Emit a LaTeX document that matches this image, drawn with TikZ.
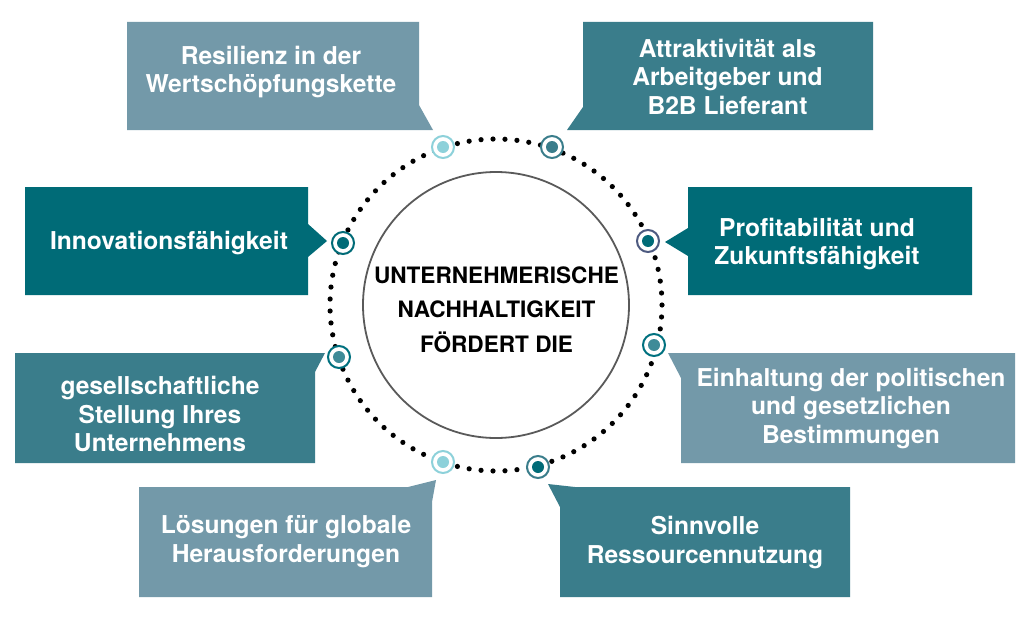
\documentclass[tikz,border=0pt]{standalone}
\usepackage{fontspec}
\setmainfont{TeX Gyre Heros}
\definecolor{slate}{HTML}{7399A9}
\definecolor{tealm}{HTML}{3A7D8B}
\definecolor{teald}{HTML}{006B77}
\definecolor{lightc}{HTML}{8DD1DA}
\definecolor{ringp}{HTML}{4D5A80}
\definecolor{ringt}{HTML}{00717F}
\definecolor{fillm}{HTML}{3E8B98}
\definecolor{coregray}{HTML}{5A5A5A}
\begin{document}
\begin{tikzpicture}[x=1pt,y=-1pt,
  boxtext/.style={text=white, font=\fontsize{24.6}{28.5}\selectfont\bfseries, align=center, inner sep=0pt},
  coretextstyle/.style={text=black, font=\fontsize{22.6}{34.5}\selectfont\bfseries, align=center, inner sep=0pt},
  marker/.style 2 args={circle, draw=#1, line width=2pt, fill=white, minimum size=22pt, inner sep=0pt,
    path picture={\fill[#2] (path picture bounding box.center) circle (6pt);}},
  corecircle/.style={circle, draw=coregray, line width=1.8pt, minimum size=266pt, inner sep=0pt}
]
\useasboundingbox (0,0) rectangle (1030,618);
\fill[white] (0,0) rectangle (1030,618);

% boxes with pointers
\fill[slate] (127,22) -- (419,22) -- (419,105) -- (433,130) -- (127,130) -- cycle;
\fill[tealm] (583,22) -- (873,22) -- (873,130) -- (567,130) -- (583,107) -- cycle;
\fill[teald] (25,187) -- (308,187) -- (308,224) -- (327,241) -- (308,257) -- (308,295) -- (25,295) -- cycle;
\fill[teald] (688,187) -- (972,187) -- (972,295) -- (688,295) -- (688,256) -- (665,242) -- (688,228) -- cycle;
\fill[tealm] (15,353) -- (325,353) -- (315,372) -- (315,463) -- (15,463) -- cycle;
\fill[slate] (668,353) -- (1015,353) -- (1015,463) -- (681,463) -- (681,378) -- cycle;
\fill[slate] (139,487) -- (408,487) -- (436,480) -- (432,502) -- (432,597) -- (139,597) -- cycle;
\fill[tealm] (548,484) -- (575,487) -- (850,487) -- (850,597) -- (560,597) -- (560,507) -- cycle;

% texts
\node[boxtext] (ta) at (271,72) {Resilienz in der\\Wertschöpfungskette};
\node[boxtext] (tb) at (727.5,76.5) {Attraktivität als\\Arbeitgeber und\\B2B Lieferant};
\node[boxtext] (tc) at (169,243) {Innovationsfähigkeit};
\node[boxtext] (td) at (817,244) {Profitabilität und\\Zukunftsfähigkeit};
\node[boxtext] (te) at (160,414) {gesellschaftliche\\Stellung Ihres\\Unternehmens};
\node[boxtext] (tf) at (851,408.5) {Einhaltung der politischen\\und gesetzlichen\\Bestimmungen};
\node[boxtext] (tg) at (286,541.5) {Lösungen für globale\\Herausforderungen};
\node[boxtext] (th) at (705,542.5) {Sinnvolle\\Ressourcennutzung};

% dotted ring
\foreach \a in {0,...,86}
  \fill[black] (496,305) ++(4.137931*\a:166) circle (2.6);

% core circle
\node[corecircle] (core) at (496,305) {};
\node[coretextstyle] (coretext) at (496.5,309.5) {UNTERNEHMERISCHE\\NACHHALTIGKEIT\\FÖRDERT DIE};

% markers
\node[marker={lightc}{lightc}] (m1) at (443,147) {};
\node[marker={tealm}{tealm}] (m2) at (552,147) {};
\node[marker={teald}{teald}] (m3) at (343,243) {};
\node[marker={ringp}{teald}] (m4) at (648,241) {};
\node[marker={ringt}{fillm}] (m5) at (339,357) {};
\node[marker={ringt}{fillm}] (m6) at (654,345) {};
\node[marker={lightc}{lightc}] (m7) at (443,462) {};
\node[marker={tealm}{teald}] (m8) at (538,467) {};
\end{tikzpicture}
\end{document}
